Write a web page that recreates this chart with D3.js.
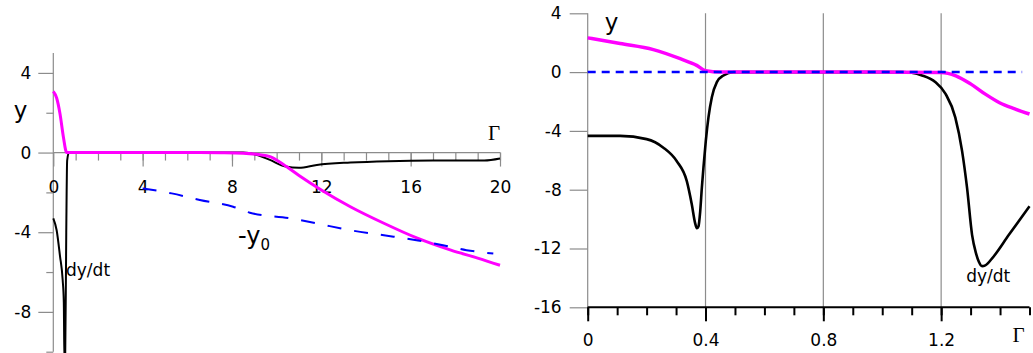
<!DOCTYPE html>
<html><head><meta charset="utf-8">
<script src="https://cdn.jsdelivr.net/npm/d3@7"></script>
<style>
html,body{margin:0;padding:0;background:#fff;}
svg{display:block;}
text{font-family:"DejaVu Sans",sans-serif;}
</style></head>
<body>
<svg id="chart" width="1033" height="353"></svg>
<script>
// ---------- Left panel data ----------
const leftXTicks = [0, 4, 8, 12, 16, 20];
const leftYTicks = [4, 0, -4, -8];
const leftYMinor = [2, -2, -6, -10];

const magLx = [0, 0.15, 0.3, 0.45, 0.6, 2, 4, 6, 7.5, 8.5, 9.2, 9.7, 10.3, 11, 12, 13.3, 14.8, 16.3, 17.8, 19, 20];
const magLy = [3.07, 2.74, 1.95, 0.8, 0, 0, 0, 0, -0.01, -0.03, -0.1, -0.2, -0.6, -1.15, -1.88, -2.72, -3.55, -4.3, -4.9, -5.3, -5.66];

const blkLx = [0, 0.15, 0.3, 0.42, 0.47, 0.5, 0.53, 0.58, 0.62, 0.7, 8.5, 9.2, 9.7, 10.4, 11, 11.8, 13.3, 15, 17, 19.3, 20];
const blkLy = [-3.3, -3.9, -5.2, -6.4, -7.5, -10.6, -10.6, -4, -0.4, 0, 0, -0.15, -0.37, -0.7, -0.76, -0.62, -0.5, -0.43, -0.4, -0.4, -0.3];

const bluLx = [4, 5.3, 6.56, 8.05, 8.8, 10.6, 11.8, 13.3, 14.8, 16.26, 17.45, 18.5, 19.7];
const bluLy = [-1.8, -2.05, -2.38, -2.72, -3.02, -3.3, -3.56, -3.9, -4.15, -4.4, -4.65, -4.9, -5.07];

// ---------- Right panel data ----------
const rightXTicks = [0, 0.4, 0.8, 1.2];
const rightXTickLabels = ["0", "0.4", "0.8", "1.2"];
const rightYTicks = [4, 0, -4, -8, -12, -16];

const magRx = [0, 0.11, 0.223, 0.314, 0.37, 0.4, 0.45, 1.0, 1.2, 1.25, 1.3, 1.35, 1.4, 1.45, 1.5];
const magRy = [2.33, 1.94, 1.53, 0.91, 0.46, 0.1, 0, 0, -0.02, -0.25, -0.8, -1.5, -2.1, -2.5, -2.85];

const blkRx = [0, 0.11, 0.2, 0.257, 0.302, 0.3365, 0.3535, 0.3647, 0.3705, 0.376, 0.382, 0.3875, 0.393, 0.401, 0.41, 0.4215, 0.4385, 0.461, 0.495, 1.067, 1.1, 1.135, 1.18, 1.215, 1.248, 1.271, 1.288, 1.305, 1.318, 1.328, 1.339, 1.35, 1.373, 1.43, 1.5];
const blkRy = [-4.34, -4.34, -4.56, -5.14, -6.05, -7.42, -9.01, -10.27, -10.62, -10.5, -9.47, -7.88, -6.5, -4.68, -3.08, -1.71, -0.68, -0.23, 0, 0, -0.05, -0.23, -0.68, -1.48, -3.08, -5.36, -7.88, -11.07, -12.3, -12.9, -13.2, -13.15, -12.67, -11.07, -9.13];

const bluRx = [0, 1.475];
const bluRy = [0, 0];

// ---------- Drawing ----------
const svg = d3.select("#chart");
const zip = (xs, ys) => xs.map((x, i) => [x, ys[i]]);
const fmt = d => String(d);   // plain hyphen-minus like the reference

// Left scales
const xL = d3.scaleLinear().domain([0, 20]).range([53.3, 500]);
const yL = d3.scaleLinear().domain([-10, 5]).range([351.7, 53]);
const gL = svg.append("g");
const gray = "#8c8c8c";

gL.append("line").attr("x1", xL(0)).attr("x2", xL(0)).attr("y1", yL(5)).attr("y2", yL(-10))
  .attr("stroke", gray).attr("stroke-width", 1.2);
gL.append("line").attr("x1", xL(0)).attr("x2", xL(20)).attr("y1", yL(0)).attr("y2", yL(0))
  .attr("stroke", gray).attr("stroke-width", 1.2);

function styleAxis(g, color, sw, fs) {
  g.select(".domain").remove();
  g.selectAll(".tick line").attr("stroke", color).attr("stroke-width", sw);
  g.selectAll(".tick text").attr("fill", "#000").style("font-size", fs + "px")
    .style("font-family", '"DejaVu Sans", sans-serif');
}

gL.append("g").attr("transform", `translate(0,${yL(0)})`)
  .call(d3.axisBottom(xL).tickValues(d3.range(1, 21)).tickSize(8).tickFormat(""))
  .call(g => styleAxis(g, gray, 1.2, 17));
gL.append("g").attr("transform", `translate(0,${yL(0)})`)
  .call(d3.axisBottom(xL).tickValues(leftXTicks).tickSize(14).tickPadding(14).tickFormat(fmt))
  .call(g => styleAxis(g, gray, 1.2, 17));
gL.append("g").attr("transform", `translate(${xL(0)},0)`)
  .call(d3.axisLeft(yL).tickValues(leftYMinor).tickSize(7).tickFormat(""))
  .call(g => styleAxis(g, gray, 1.2, 17));
gL.append("g").attr("transform", `translate(${xL(0)},0)`)
  .call(d3.axisLeft(yL).tickValues(leftYTicks).tickSize(15).tickPadding(7).tickFormat(fmt))
  .call(g => styleAxis(g, gray, 1.2, 17));

const lineL = d3.line().x(d => xL(d[0])).y(d => yL(d[1])).curve(d3.curveMonotoneX);

gL.append("path").datum(zip(blkLx, blkLy)).attr("d", lineL)
  .attr("fill", "none").attr("stroke", "#000").attr("stroke-width", 2);
gL.append("path").datum(zip(magLx, magLy)).attr("d", lineL)
  .attr("fill", "none").attr("stroke", "#ff00ff").attr("stroke-width", 3);
gL.append("path").datum(zip(bluLx, bluLy)).attr("d", lineL)
  .attr("fill", "none").attr("stroke", "#0000ff").attr("stroke-width", 2)
  .attr("stroke-dasharray", "14,13");

gL.append("text").attr("x", xL(-1.47)).attr("y", yL(1.74)).attr("text-anchor", "middle")
  .style("font-size", "23px").text("y");
gL.append("text").attr("x", xL(19.73)).attr("y", yL(0.63)).attr("text-anchor", "middle")
  .style("font-family", '"Liberation Serif", serif').style("font-size", "21px").text("Γ");
const ty0 = gL.append("text").attr("x", xL(8.27)).attr("y", yL(-4.58)).style("font-size", "24px");
ty0.append("tspan").text("-y");
ty0.append("tspan").attr("dy", 6).style("font-size", "15px").text("0");
gL.append("text").attr("x", xL(0.57)).attr("y", yL(-6.2)).style("font-size", "17px").text("dy/dt");

// Right scales
const xR = d3.scaleLinear().domain([0, 1.5]).range([587.7, 1029.5]);
const yR = d3.scaleLinear().domain([-16, 4]).range([307.3, 13.3]);
const gR = svg.append("g");

gR.selectAll("line.grid").data(rightXTicks).enter().append("line").attr("class", "grid")
  .attr("x1", d => xR(d)).attr("x2", d => xR(d)).attr("y1", yR(4)).attr("y2", yR(-16))
  .attr("stroke", gray).attr("stroke-width", 1.2);

gR.append("g").attr("transform", `translate(${xR(0)},0)`)
  .call(d3.axisLeft(yR).tickValues(rightYTicks).tickSize(18).tickPadding(8).tickFormat(fmt))
  .call(g => styleAxis(g, gray, 1.2, 17));

gR.append("line").attr("x1", xR(0)).attr("x2", xR(1.5)).attr("y1", yR(-16)).attr("y2", yR(-16))
  .attr("stroke", "#000").attr("stroke-width", 2);
gR.append("g").attr("transform", `translate(0,${yR(-16)})`)
  .call(d3.axisBottom(xR).tickValues(d3.range(0, 16).map(i => i / 10)).tickSize(8).tickFormat(""))
  .call(g => styleAxis(g, "#000", 2, 17));
gR.append("g").attr("transform", `translate(0,${yR(-16)})`)
  .call(d3.axisBottom(xR).tickValues(rightXTicks).tickSize(14).tickPadding(13).tickFormat((d, i) => rightXTickLabels[i]))
  .call(g => styleAxis(g, "#000", 2, 17));

const lineR = d3.line().x(d => xR(d[0])).y(d => yR(d[1])).curve(d3.curveMonotoneX);
gR.append("path").datum(zip(blkRx, blkRy)).attr("d", lineR)
  .attr("fill", "none").attr("stroke", "#000").attr("stroke-width", 2.6);
gR.append("path").datum(zip(magRx, magRy)).attr("d", lineR)
  .attr("fill", "none").attr("stroke", "#ff00ff").attr("stroke-width", 3.5);
gR.append("path").datum(zip(bluRx, bluRy)).attr("d", lineR)
  .attr("fill", "none").attr("stroke", "#0000ff").attr("stroke-width", 2.5)
  .attr("stroke-dasharray", "8,6");

gR.append("text").attr("x", xR(0.081)).attr("y", yR(2.84)).attr("text-anchor", "middle")
  .style("font-size", "23px").text("y");
gR.append("text").attr("x", xR(1.285)).attr("y", yR(-14.31)).style("font-size", "17px").text("dy/dt");
gR.append("text").attr("x", xR(1.4626)).attr("y", yR(-18.34)).attr("text-anchor", "middle")
  .style("font-family", '"Liberation Serif", serif').style("font-size", "21px").text("Γ");
</script>
</body></html>
